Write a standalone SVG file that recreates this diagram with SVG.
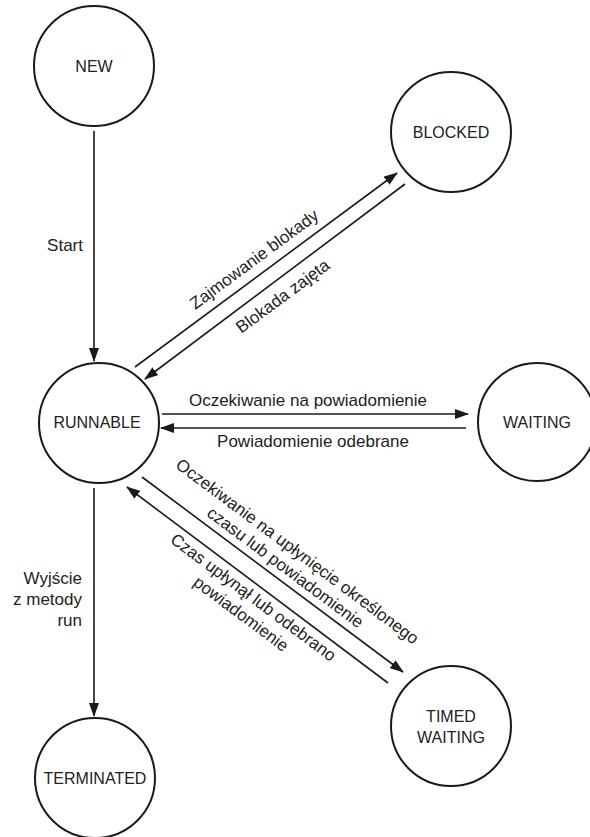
<svg xmlns="http://www.w3.org/2000/svg" width="590" height="837" viewBox="0 0 590 837">
<defs>
<style>
.node circle{fill:#fff;stroke:#1a1a1a;stroke-width:2}
.node text{font-family:"Liberation Sans",Arial,sans-serif;font-size:16px;fill:#222;text-anchor:middle}
.edge{stroke:#1a1a1a;stroke-width:1.6;fill:none}
.lbl{font-family:"Liberation Sans",Arial,sans-serif;font-size:17px;fill:#222}
</style>
<marker id="ah" markerUnits="userSpaceOnUse" markerWidth="14" markerHeight="10" refX="13" refY="5" orient="auto">
<path d="M0,0 L14,5 L0,10 Z" fill="#1a1a1a"/>
</marker>
</defs>
<rect width="590" height="837" fill="#fff"/>
<g id="connectors">
<line class="edge" x1="94" y1="131" x2="94" y2="361" marker-end="url(#ah)"/>
<line class="edge" x1="94" y1="488" x2="94" y2="716" marker-end="url(#ah)"/>
<line class="edge" x1="135" y1="367" x2="397" y2="173" marker-end="url(#ah)"/>
<line class="edge" x1="405" y1="184" x2="145" y2="379" marker-end="url(#ah)"/>
<line class="edge" x1="162" y1="414" x2="468" y2="414" marker-end="url(#ah)"/>
<line class="edge" x1="466" y1="428" x2="161" y2="428" marker-end="url(#ah)"/>
<line class="edge" x1="142" y1="477" x2="403" y2="672" marker-end="url(#ah)"/>
<line class="edge" x1="388" y1="683" x2="127" y2="487" marker-end="url(#ah)"/>
<text class="lbl" x="83" y="251" text-anchor="end">Start</text>
<text class="lbl" text-anchor="end"><tspan x="82" y="584">Wyjście</tspan><tspan x="82" y="605">z metody</tspan><tspan x="82" y="626">run</tspan></text>
<text class="lbl" text-anchor="middle" transform="translate(257.6,263.8) rotate(-36.5)">Zajmowanie blokady</text>
<text class="lbl" text-anchor="middle" transform="translate(286.1,300.7) rotate(-36.5)">Blokada zajęta</text>
<text class="lbl" x="308" y="406" text-anchor="middle">Oczekiwanie na powiadomienie</text>
<text class="lbl" x="313" y="447" text-anchor="middle">Powiadomienie odebrane</text>
<text class="lbl" text-anchor="middle" transform="translate(293.9,556) rotate(36.7)">Oczekiwanie na upłynięcie określonego</text>
<text class="lbl" text-anchor="middle" transform="translate(282,572) rotate(36.7)">czasu lub powiadomienie</text>
<text class="lbl" text-anchor="middle" transform="translate(249.9,601.9) rotate(36.7)">Czas upłynął lub odebrano</text>
<text class="lbl" text-anchor="middle" transform="translate(237.7,618.4) rotate(36.7)">powiadomienie</text>
</g>
<g id="new" class="node"><circle cx="94" cy="66" r="60"/><text x="94" y="72">NEW</text></g>
<g id="blocked" class="node"><circle cx="451" cy="132" r="60"/><text x="451" y="138">BLOCKED</text></g>
<g id="runnable" class="node"><circle cx="99" cy="423" r="60"/><text x="97" y="428">RUNNABLE</text></g>
<g id="waiting" class="node"><circle cx="537" cy="422" r="59"/><text x="537" y="428">WAITING</text></g>
<g id="timed-waiting" class="node"><circle cx="451" cy="726" r="60"/><text x="451" y="722">TIMED</text><text x="451" y="743">WAITING</text></g>
<g id="terminated" class="node"><circle cx="95" cy="778" r="60"/><text x="95" y="784">TERMINATED</text></g>
</svg>
